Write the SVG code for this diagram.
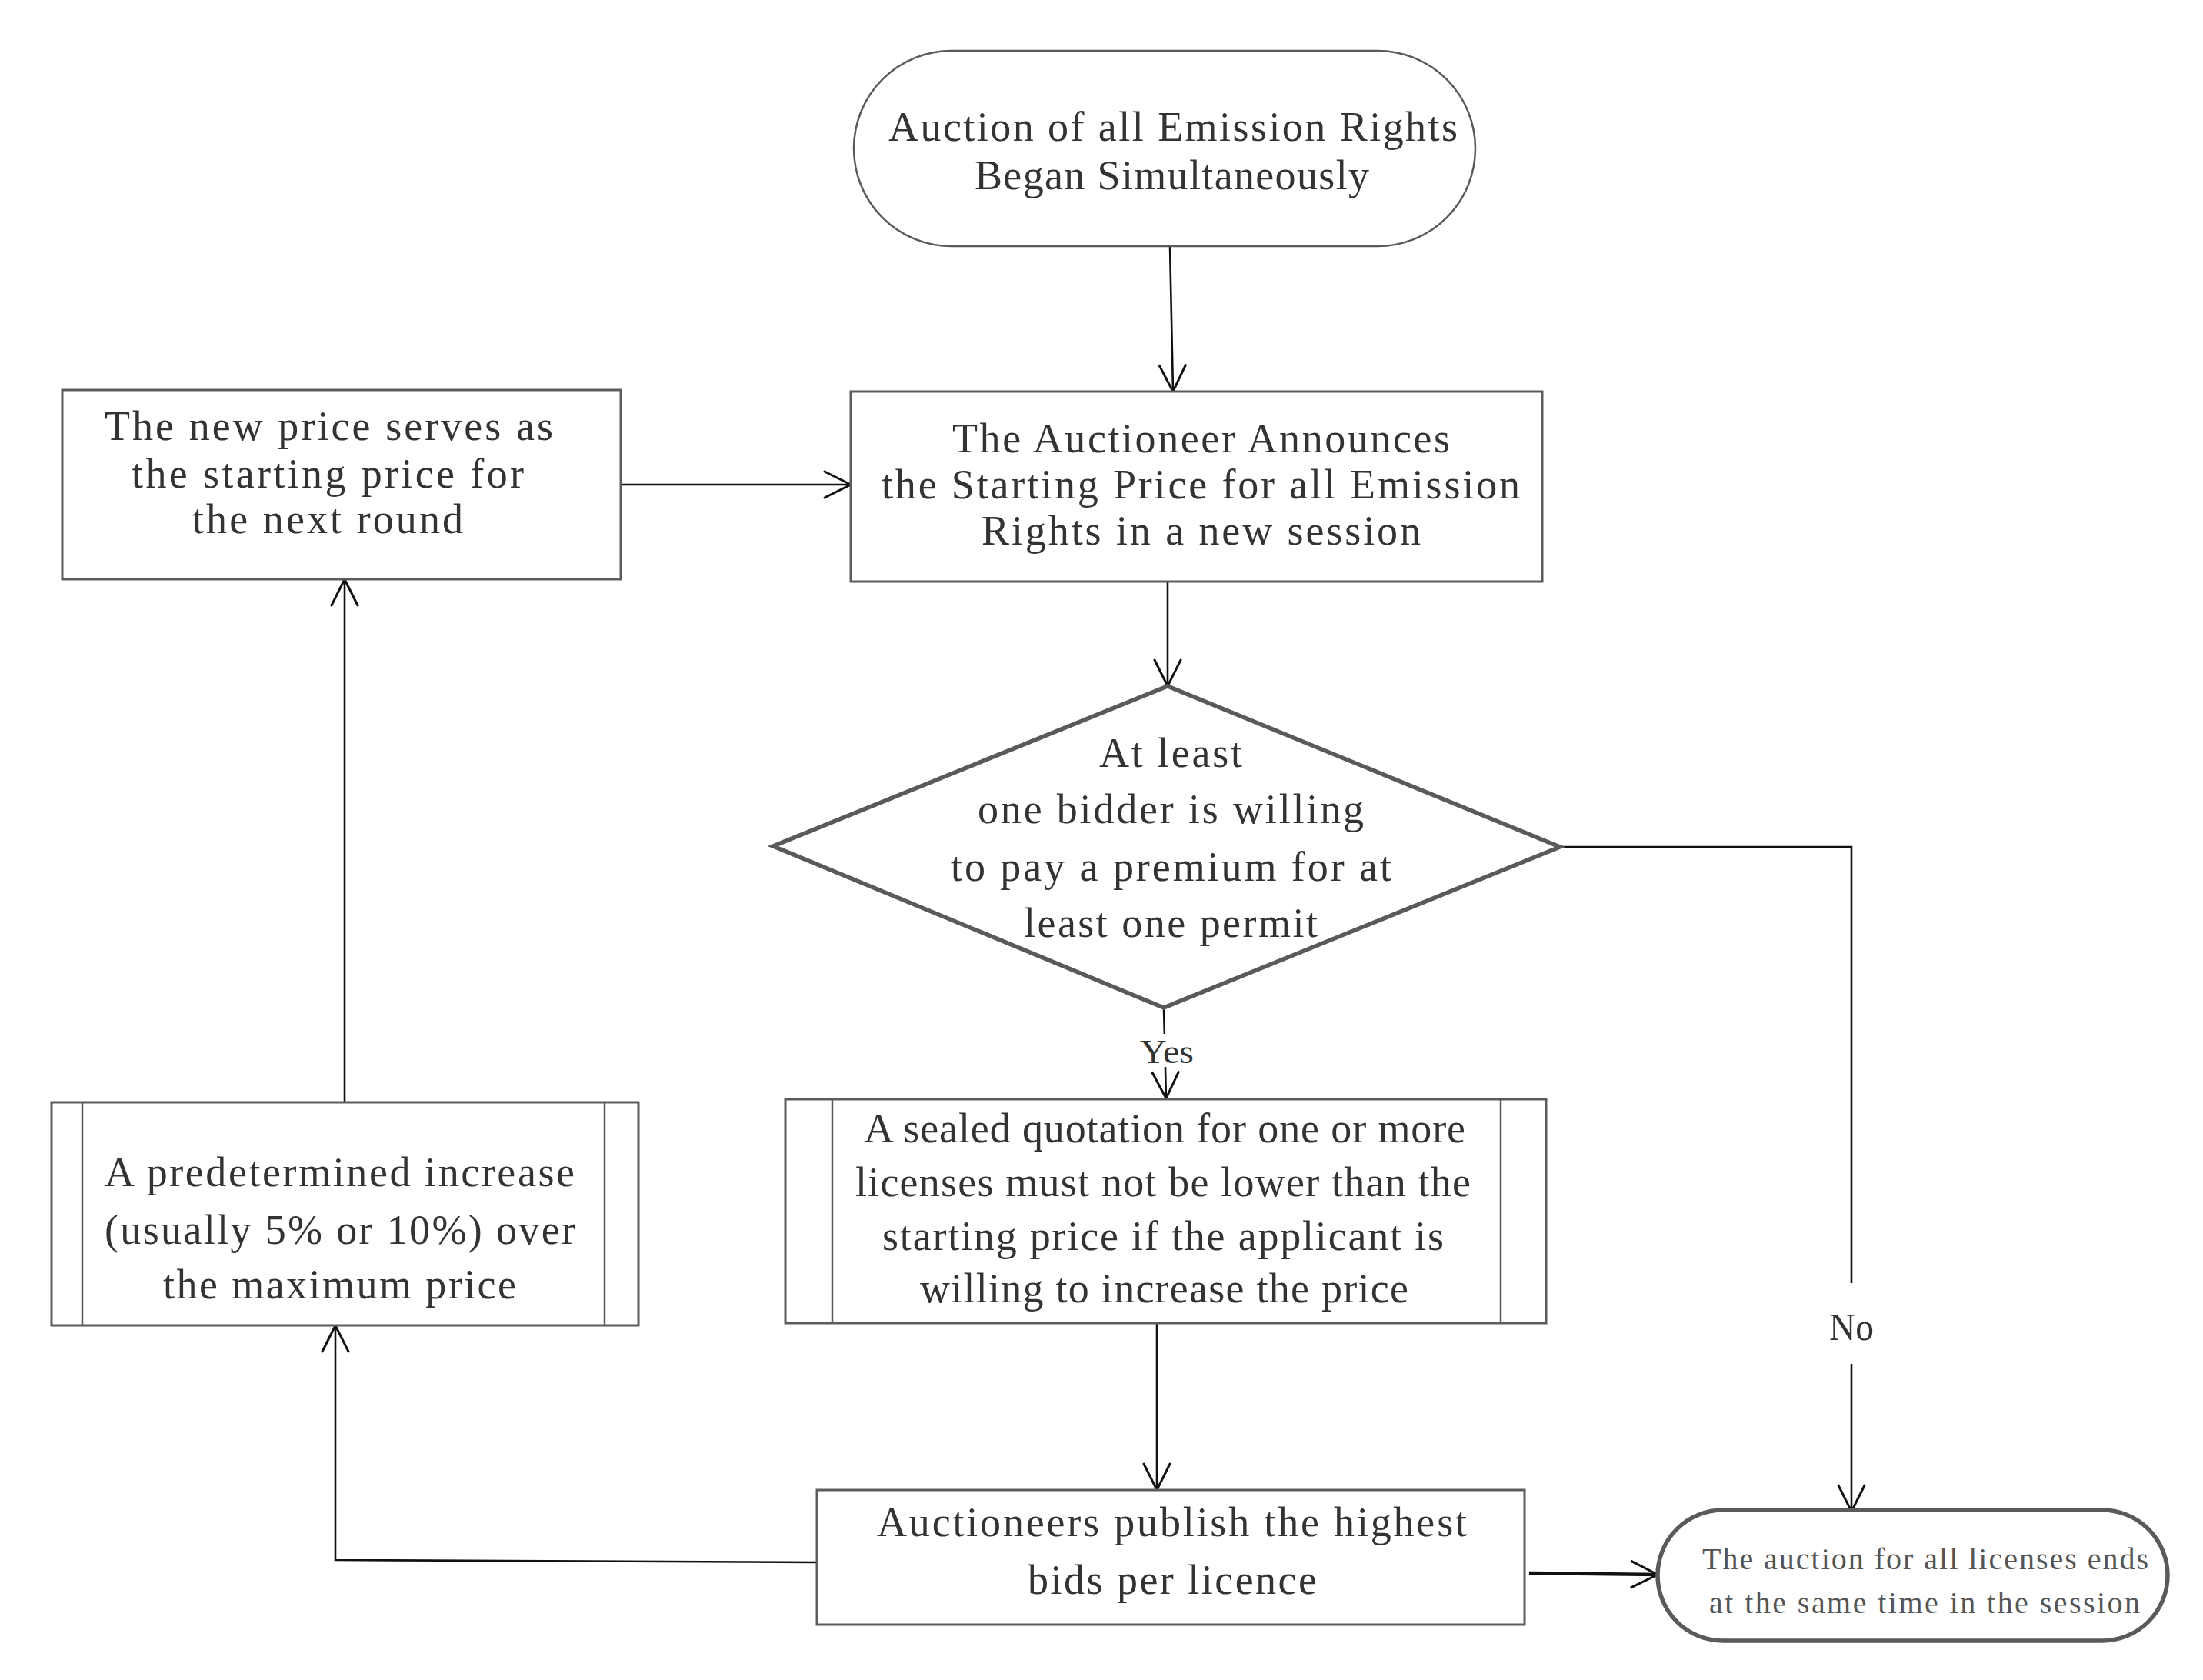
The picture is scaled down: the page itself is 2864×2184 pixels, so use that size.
<svg xmlns="http://www.w3.org/2000/svg" width="2864" height="2184" viewBox="0 0 2864 2184">
  <defs>
    <marker id="arr" markerUnits="userSpaceOnUse" viewBox="-40 -20 44 40" refX="0" refY="0" markerWidth="44" markerHeight="40" orient="auto" overflow="visible">
      <path d="M-34,-17 L0,0 L-34,17" fill="none" stroke="#111" stroke-width="3" stroke-linecap="round" stroke-linejoin="miter"/>
    </marker>
    <style>
      .box { fill: #fff; stroke: #5c5c5c; stroke-width: 3; }
      .dia { fill: #fff; stroke: #5a5a5a; stroke-width: 5.5; stroke-linejoin: miter; }
      .term { fill: #fff; stroke: #5a5a5a; stroke-width: 2.5; }
      .term2 { fill: #fff; stroke: #5a5a5a; stroke-width: 5.5; }
      .side { stroke: #5c5c5c; stroke-width: 2.5; fill: none; }
      .t { font-family: "Liberation Serif", "DejaVu Serif", serif; font-size: 54px; fill: #333; }
      .ts { font-family: "Liberation Serif", "DejaVu Serif", serif; font-size: 40px; fill: #555; }
      .lbl { font-family: "Liberation Serif", "DejaVu Serif", serif; fill: #333; }
      .conn { fill: none; stroke: #111; stroke-width: 2.6; marker-end: url(#arr); }
      .connthick { fill: none; stroke: #111; stroke-width: 4.5; marker-end: url(#arr); }
    </style>
  </defs>

  <rect x="0" y="0" width="2864" height="2184" fill="#fff"/>

  <g id="connectors">
    <path id="c-start-announce" class="conn" d="M1521,320 L1525,509"/>
    <path id="c-newprice-announce" class="conn" d="M807,630 L1106,630"/>
    <path id="c-announce-decision" class="conn" d="M1518,756 L1518,892"/>
    <path id="c-decision-sealed" class="conn" d="M1513,1310 L1516,1428"/>
    <path id="c-decision-end" class="conn" d="M2028,1101 L2407,1101 L2407,1965"/>
    <path id="c-sealed-publish" class="conn" d="M1504,1720 L1504,1937"/>
    <path id="c-publish-increase" class="conn" d="M1062,2031 L436,2028 L436,1723"/>
    <path id="c-increase-newprice" class="conn" d="M448,1433 L448,753"/>
    <path id="c-publish-end" class="connthick" d="M1988,2045 L2155,2047"/>
    <g id="label-yes">
      <rect x="1480" y="1344" width="74" height="43" fill="#fff"/>
      <text class="lbl" x="1482" y="1382" font-size="44" textLength="70" lengthAdjust="spacingAndGlyphs">Yes</text>
    </g>
    <g id="label-no">
      <rect x="2372" y="1668" width="70" height="105" fill="#fff"/>
      <text class="lbl" x="2378" y="1742" font-size="50" textLength="58" lengthAdjust="spacingAndGlyphs">No</text>
    </g>
  </g>

  <g id="node-start">
    <rect class="term" x="1110" y="66" width="808" height="254" rx="127" ry="127"/>
    <text class="t" x="1155" y="183" textLength="740" lengthAdjust="spacing">Auction of all Emission Rights</text>
    <text class="t" x="1267" y="246" textLength="513" lengthAdjust="spacing">Began Simultaneously</text>
  </g>

  <g id="node-announce">
    <rect class="box" x="1106" y="509" width="899" height="247"/>
    <text class="t" x="1238" y="588" textLength="647" lengthAdjust="spacing">The Auctioneer Announces</text>
    <text class="t" x="1146" y="648" textLength="830" lengthAdjust="spacing">the Starting Price for all Emission</text>
    <text class="t" x="1276" y="708" textLength="571" lengthAdjust="spacing">Rights in a new session</text>
  </g>

  <g id="node-newprice">
    <rect class="box" x="81" y="507" width="726" height="246"/>
    <text class="t" x="136" y="572" textLength="583" lengthAdjust="spacing">The new price serves as</text>
    <text class="t" x="171" y="634" textLength="510" lengthAdjust="spacing">the starting price for</text>
    <text class="t" x="250" y="693" textLength="352" lengthAdjust="spacing">the next round</text>
  </g>

  <g id="node-decision">
    <polygon class="dia" points="1518,892 2028,1101 1513,1310 1005,1100"/>
    <text class="t" x="1429" y="997" textLength="186" lengthAdjust="spacing">At least</text>
    <text class="t" x="1271" y="1070" textLength="502" lengthAdjust="spacing">one bidder is willing</text>
    <text class="t" x="1236" y="1145" textLength="573" lengthAdjust="spacing">to pay a premium for at</text>
    <text class="t" x="1331" y="1218" textLength="382" lengthAdjust="spacing">least one permit</text>
  </g>

  <g id="node-increase">
    <rect class="box" x="67" y="1433" width="763" height="290"/>
    <line class="side" x1="107" y1="1433" x2="107" y2="1723"/>
    <line class="side" x1="786" y1="1433" x2="786" y2="1723"/>
    <text class="t" x="136" y="1542" textLength="611" lengthAdjust="spacing">A predetermined increase</text>
    <text class="t" x="136" y="1617" textLength="612" lengthAdjust="spacing">(usually 5% or 10%) over</text>
    <text class="t" x="212" y="1688" textLength="459" lengthAdjust="spacing">the maximum price</text>
  </g>

  <g id="node-sealed">
    <rect class="box" x="1021" y="1429" width="989" height="291"/>
    <line class="side" x1="1082" y1="1429" x2="1082" y2="1720"/>
    <line class="side" x1="1951" y1="1429" x2="1951" y2="1720"/>
    <text class="t" x="1123" y="1485" textLength="782" lengthAdjust="spacing">A sealed quotation for one or more</text>
    <text class="t" x="1112" y="1555" textLength="800" lengthAdjust="spacing">licenses must not be lower than the</text>
    <text class="t" x="1147" y="1625" textLength="730" lengthAdjust="spacing">starting price if the applicant is</text>
    <text class="t" x="1196" y="1693" textLength="635" lengthAdjust="spacing">willing to increase the price</text>
  </g>

  <g id="node-publish">
    <rect class="box" x="1062" y="1937" width="920" height="175"/>
    <text class="t" x="1140" y="1997" textLength="767" lengthAdjust="spacing">Auctioneers publish the highest</text>
    <text class="t" x="1336" y="2072" textLength="376" lengthAdjust="spacing">bids per licence</text>
  </g>

  <g id="node-end">
    <rect class="term2" x="2155" y="1963" width="663" height="170" rx="85" ry="85"/>
    <text class="ts" x="2213" y="2040" textLength="580" lengthAdjust="spacing">The auction for all licenses ends</text>
    <text class="ts" x="2222" y="2097" textLength="560" lengthAdjust="spacing">at the same time in the session</text>
  </g>
</svg>
